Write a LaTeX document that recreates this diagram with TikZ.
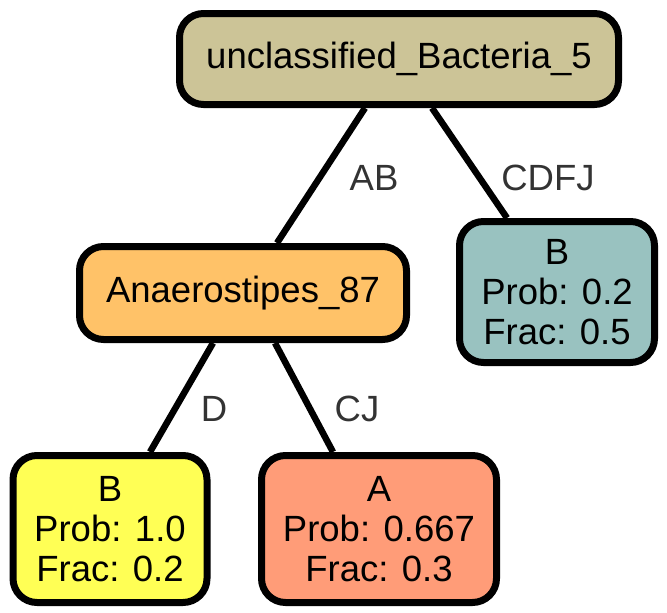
\documentclass[tikz,border=0pt]{standalone}
\usepackage{fontspec}
\setmainfont{Liberation Sans}
\begin{document}
\begin{tikzpicture}[x=1pt,y=-1pt,
  box/.style={draw=black,line width=7pt,rounded corners=24pt,inner sep=0pt,
    align=center,font=\fontsize{36.5}{40}\selectfont,text=black},
  link/.style={draw=black,line width=6.5pt},
  elabel/.style={font=\fontsize{36.5}{40}\selectfont,text=black!80,inner sep=0pt}]
\useasboundingbox (0,0) rectangle (667,613);
\definecolor{rootfill}{HTML}{CCC497}
\definecolor{anafill}{HTML}{FFC268}
\definecolor{tealfill}{HTML}{99C2C0}
\definecolor{yelfill}{HTML}{FFFF55}
\definecolor{salfill}{HTML}{FF9C78}

\node[box,fill=rootfill,minimum width=439pt,minimum height=91pt] (root) at (399,59) {unclassified\_Bacteria\_5};
\node[box,fill=anafill,minimum width=327pt,minimum height=93pt] (ana) at (243,293) {Anaerostipes\_87};
\node[box,fill=tealfill,minimum width=195pt,minimum height=141pt] (tb) at (557,292) {B\\Prob: 0.2\\Frac: 0.5};
\node[box,fill=yelfill,minimum width=194pt,minimum height=147pt] (yb) at (110,529) {B\\Prob: 1.0\\Frac: 0.2};
\node[box,fill=salfill,minimum width=235pt,minimum height=147pt] (sa) at (379,529) {A\\Prob: 0.667\\Frac: 0.3};

\draw[link] (root.south -| 365,0) -- (ana.north -| 277,0);
\draw[link] (root.south -| 432,0) -- (tb.north -| 507,0);
\draw[link] (ana.south -| 213,0) -- (yb.north -| 150,0);
\draw[link] (ana.south -| 275,0) -- (sa.north -| 333,0);

\node[elabel] (lab) at (374,178) {AB};
\node[elabel] (lcdfj) at (548,178) {CDFJ};
\node[elabel] (ld) at (214,409) {D};
\node[elabel] (lcj) at (357,409) {CJ};
\end{tikzpicture}
\end{document}
